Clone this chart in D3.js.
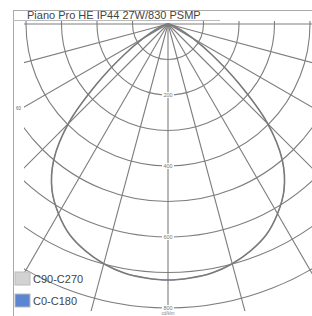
<!DOCTYPE html>
<meta charset="utf-8">
<style>
  body { margin: 0; background: #fff; }
  .grid { fill: none; stroke: #7e7e7e; stroke-width: 1.1px; }
  .curve { fill: none; }
  text { font-family: "Liberation Sans", Arial, sans-serif; }
</style>
<body>
<div id="chart"></div>
<script src="https://d3js.org/d3.v7.min.js"></script>
<script>
  // chart data
  var title = "Piano Pro HE IP44 27W/830 PSMP";
  var ringValues = [100, 200, 300, 400, 500, 600, 700, 800];
  var ringLabels = ["", "200", "", "400", "", "600", "", "800"];
  var radialAngles = [-90, -75, -60, -45, -30, -15, 0, 15, 30, 45, 60, 75, 90];
  var gammas = [0, 5, 10, 15, 20, 25, 30, 35, 40, 45, 50, 55, 60, 65, 70, 75, 80, 85, 90];
  var c90c270 = [721, 718, 712, 699, 680, 655, 617, 570, 501, 397, 260, 150, 80, 40, 20, 10, 5, 2, 0];
  var c0c180 = [721, 718, 712, 699, 680, 655, 617, 570, 501, 397, 260, 150, 80, 40, 20, 10, 5, 2, 0];
  var seriesNames = ["C90-C270", "C0-C180"];
  var seriesColors = ["#d2d2d2", "#5b86d2"];

  var width = 312, height = 316;
  var cx = 168, cy = 24;

  var r = d3.scaleLinear().domain([0, 800]).range([0, 284]);
  var ang = d3.scaleLinear().domain([0, 180]).range([0, Math.PI]);

  function px(g, v) { return cx + r(v) * Math.sin(ang(g)); }
  function py(g, v) { return cy + r(v) * Math.cos(ang(g)); }

  var svg = d3.select("#chart").append("svg")
    .attr("width", width).attr("height", height);

  svg.append("defs").append("clipPath").attr("id", "plot")
    .append("rect").attr("x", 24).attr("y", 21).attr("width", 290).attr("height", 290);

  var g = svg.append("g").attr("clip-path", "url(#plot)");

  // circles
  g.selectAll(".ring").data(ringValues).enter().append("circle")
    .attr("class", "grid")
    .attr("cx", cx).attr("cy", cy)
    .attr("r", d => r(d));

  // radial lines
  g.selectAll(".radial").data(radialAngles).enter().append("line")
    .attr("class", "grid")
    .attr("x1", cx).attr("y1", cy)
    .attr("x2", d => px(d, 1000)).attr("y2", d => py(d, 1000));

  // intensity curves, mirrored for both halves
  var line = d3.line().curve(d3.curveCatmullRom)
    .x(d => px(d[0], d[1])).y(d => py(d[0], d[1]));

  function pts(vals) {
    var left = gammas.map((a, i) => [-a, vals[i]]).reverse();
    var right = gammas.map((a, i) => [a, vals[i]]).slice(1);
    return left.concat(right);
  }

  // C0-C180 lies under the C90-C270 curve (same values)
  g.append("path").attr("class", "curve")
    .attr("d", line(pts(c0c180))).attr("stroke", seriesColors[1]).attr("stroke-width", 0.8);
  g.append("path").attr("class", "curve")
    .attr("d", line(pts(c90c270))).attr("stroke", "#7a7a7a").attr("stroke-width", 1.6);

  // ring labels on the vertical axis
  var lab = svg.append("g");
  ringValues.forEach(function (v, i) {
    if (!ringLabels[i]) return;
    lab.append("rect").attr("x", cx - 6).attr("y", cy + r(v) - 3)
      .attr("width", 12).attr("height", 6).attr("fill", "#fff");
    lab.append("text").attr("x", cx).attr("y", cy + r(v) + 2)
      .attr("text-anchor", "middle").attr("font-size", 5.5).attr("fill", "#777")
      .text(ringLabels[i]);
  });
  lab.append("text").attr("x", cx).attr("y", 315).attr("text-anchor", "middle")
    .attr("font-size", 4.5).attr("fill", "#888").text("cd/klm");
  lab.append("text").attr("x", 16).attr("y", 110).attr("font-size", 4.5).attr("fill", "#666").text("60");

  // frame and title
  svg.append("line").attr("x1", 13).attr("y1", 10.5).attr("x2", 312).attr("y2", 10.5)
    .attr("stroke", "#aaa");
  svg.append("line").attr("x1", 13.5).attr("y1", 10).attr("x2", 13.5).attr("y2", 316)
    .attr("stroke", "#aaa");
  svg.append("line").attr("x1", 13).attr("y1", 20.5).attr("x2", 220).attr("y2", 20.5)
    .attr("stroke", "#bbb");
  svg.append("text").attr("x", 27).attr("y", 19).attr("font-size", 11)
    .attr("fill", "#444").text(title);

  // legend
  var leg = svg.append("g");
  seriesNames.forEach(function (n, i) {
    leg.append("rect").attr("x", 15).attr("y", 272 + i * 22)
      .attr("width", 15).attr("height", 13)
      .attr("fill", seriesColors[i]).attr("stroke", "#bbb");
    leg.append("text").attr("x", 33).attr("y", 283 + i * 22)
      .attr("font-size", 11).attr("fill", "#444").text(n);
  });
</script>
</body>
